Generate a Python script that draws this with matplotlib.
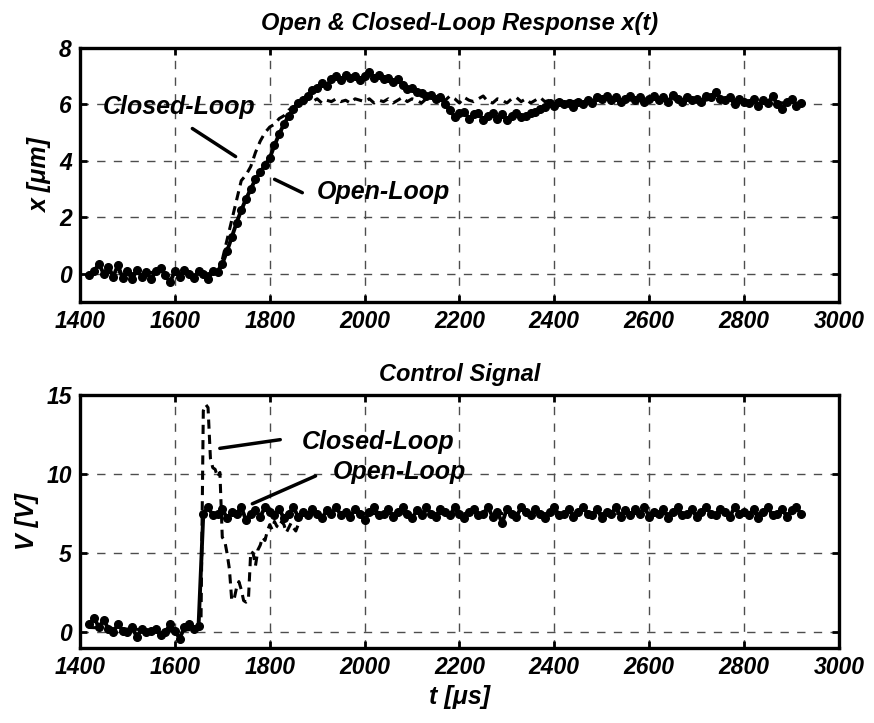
import matplotlib
matplotlib.use("Agg")
import matplotlib.pyplot as plt
import numpy as np

plt.rcParams['font.family'] = ['Liberation Sans', 'DejaVu Sans']
plt.rcParams['font.weight'] = 'bold'
plt.rcParams['font.style'] = 'italic'

# ---- data ----
# open-loop displacement x(t), sampled every 10 us from 1420 us
x_open = [
    -0.05, 0.10, 0.35, 0.00, 0.25, -0.10, 0.30, -0.15, 0.10, -0.20,
    0.15, -0.10, 0.05, -0.20, 0.10, 0.20, -0.05, -0.30, 0.10, -0.10,
    0.15, 0.00, -0.15, 0.10, 0.00, -0.20, 0.10, 0.05,
    0.35, 0.80, 1.30, 1.80, 2.25, 2.65, 3.00, 3.35, 3.60, 3.85,
    4.10, 4.55, 4.95, 5.30, 5.60, 5.85, 6.05, 6.15, 6.30, 6.50,
    6.60, 6.75, 6.65, 6.90, 7.00, 6.85, 7.05, 6.95, 7.00, 6.85,
    7.00, 7.15, 6.95, 7.05, 6.90, 6.95, 6.80, 6.90, 6.70, 6.55,
    6.60, 6.45, 6.40, 6.30, 6.35, 6.20, 6.25, 6.00, 5.80, 5.55,
    5.70, 5.75, 5.50, 5.65, 5.70, 5.45, 5.60, 5.70, 5.50, 5.65,
    5.45, 5.60, 5.70, 5.55, 5.60, 5.70, 5.75, 5.85, 5.90, 6.05,
    5.95, 6.10, 6.00, 6.05, 5.90, 6.10, 6.00, 6.15, 6.05, 6.25,
    6.20, 6.30, 6.15, 6.25, 6.10, 6.20, 6.30, 6.15, 6.25, 6.10,
    6.20, 6.30, 6.15, 6.25, 6.10, 6.35, 6.20, 6.10, 6.25, 6.15,
    6.20, 6.10, 6.30, 6.25, 6.45, 6.20, 6.15, 6.25, 6.00, 6.20,
    6.10, 6.05, 6.20, 5.95, 6.15, 6.05, 6.30, 6.00, 5.85, 6.10,
    6.20, 5.95, 6.05,
]

# closed-loop displacement x(t), same sampling
x_closed = [
    0.00, 0.05, 0.10, 0.00, 0.05, 0.00, 0.10, -0.05, 0.05, 0.00,
    0.05, -0.05, 0.00, 0.05, 0.00, 0.10, 0.00, -0.05, 0.05, 0.00,
    0.05, 0.00, -0.05, 0.05, 0.00, 0.00, 0.05, 0.05,
    0.50, 1.20, 1.90, 2.60, 3.30, 3.50, 3.80, 4.30, 4.70, 5.00,
    5.20, 5.30, 5.50, 5.60, 5.80, 5.90, 6.05, 6.15, 6.20, 6.10,
    6.20, 6.05, 6.15, 6.10, 6.20, 6.10, 6.15, 6.05, 6.20, 6.15,
    6.10, 6.20, 6.05, 6.15, 6.10, 6.20, 6.05, 6.15, 6.25, 6.10,
    6.20, 6.15, 6.05, 6.20, 6.30, 6.10, 6.25, 6.15, 6.30, 6.20,
    6.05, 6.25, 6.15, 6.10, 6.20, 6.30, 6.10, 6.05, 6.20, 6.15,
    6.05, 6.20, 6.25, 6.10, 6.20, 6.05, 6.15, 6.25, 6.10, 6.15,
    6.10, 6.15, 6.10, 6.15, 6.10, 6.15, 6.10, 6.15, 6.15, 6.20,
    6.15, 6.20, 6.15, 6.20, 6.15, 6.20, 6.15, 6.20, 6.15, 6.20,
    6.15, 6.20, 6.15, 6.20, 6.15, 6.20, 6.15, 6.20, 6.15, 6.20,
    6.15, 6.20, 6.15, 6.20, 6.15, 6.20, 6.15, 6.20, 6.15, 6.20,
    6.15, 6.10, 6.15, 6.10, 6.15, 6.10, 6.15, 6.10, 6.05, 6.10,
    6.10, 6.05, 6.05,
]

# open-loop control voltage, every 10 us from 1420 us
v_open = [
    0.5, 0.9, 0.3, 0.8, 0.2, 0.0, 0.5, 0.1, 0.0, 0.3,
    -0.3, 0.2, 0.0, 0.1, 0.2, -0.2, 0.0, 0.5, 0.1, -0.4,
    0.3, 0.5, 0.2, 0.4,
    7.5, 7.9, 7.4, 7.5, 7.8, 7.2, 7.6, 7.5, 7.9, 7.1,
    7.5, 7.7, 7.3, 7.9, 7.6, 7.4, 7.8, 7.2, 7.5, 7.9,
    7.3, 7.6, 7.4, 7.8, 7.5, 7.2, 7.7, 7.5, 7.9, 7.4,
    7.6, 7.3, 7.8, 7.5, 7.1, 7.6, 7.9, 7.4, 7.5, 7.8,
    7.3, 7.6, 7.9, 7.5, 7.2, 7.7, 7.4, 7.9, 7.5, 7.3,
    7.8, 7.6, 7.4, 7.9, 7.5, 7.2, 7.6, 7.8, 7.4, 7.5,
    7.9, 7.3, 7.6, 6.9, 7.8, 7.5, 7.3, 7.9, 7.6, 7.4,
    7.8, 7.5, 7.2, 7.6, 7.9, 7.4, 7.5, 7.8, 7.3, 7.6,
    7.9, 7.5, 7.4, 7.8, 7.2, 7.6, 7.5, 7.9, 7.3, 7.7,
    7.4, 7.8, 7.5, 7.9, 7.3, 7.6, 7.5, 7.8, 7.2, 7.6,
    7.9, 7.4, 7.5, 7.8, 7.3, 7.6, 7.9, 7.5, 7.4, 7.8,
    7.6, 7.3, 7.9, 7.5, 7.6, 7.4, 7.8, 7.2, 7.6, 7.9,
    7.4, 7.5, 7.8, 7.3, 7.7, 7.9, 7.5,
]

# closed-loop control voltage (explicit times)
v_closed_t = [1420, 1500, 1600, 1650, 1655, 1660, 1665, 1670, 1675, 1680,
              1685, 1690, 1695, 1700, 1705, 1710, 1715, 1720, 1725, 1730,
              1735, 1740, 1745, 1750, 1755, 1760, 1765, 1770, 1775, 1780,
              1785, 1790, 1795, 1800, 1805, 1810, 1815, 1820, 1825, 1830,
              1835, 1840, 1845, 1850, 1855, 1860, 1865, 1870, 1900, 2000,
              2200, 2400, 2600, 2800, 2920]
v_closed = [0.3, 0.2, 0.1, 0.2, 0.3, 14.0, 14.4, 14.2, 11.0, 10.4,
            10.3, 9.8, 10.1, 6.0, 5.8, 5.0, 4.0, 2.0, 2.1, 2.8,
            3.2, 2.7, 2.0, 1.9, 2.0, 5.1, 5.0, 4.2, 5.2, 5.5,
            6.0, 5.8, 6.4, 6.8, 6.5, 7.0, 6.7, 6.6, 7.0, 6.8,
            6.3, 6.6, 6.9, 6.6, 6.4, 6.8, 7.4, 7.5, 7.5, 7.5,
            7.5, 7.5, 7.5, 7.5, 7.5]

t0, dt = 1420, 10
t_x = t0 + dt * np.arange(len(x_open))
t_xc = t0 + dt * np.arange(len(x_closed))
t_v = t0 + dt * np.arange(len(v_open))

xticks = [1400, 1600, 1800, 2000, 2200, 2400, 2600, 2800, 3000]

fig = plt.figure(figsize=(8.74, 7.23), dpi=100)
ax1 = fig.add_axes([0.0915, 0.5823, 0.8684, 0.3513])
ax2 = fig.add_axes([0.0915, 0.1037, 0.8684, 0.3500])

tick_fs = 16.5
txt_fs = 17


def style(ax):
    ax.set_xlim(1400, 3000)
    ax.set_xticks(xticks)
    ax.grid(True, color='0.3', linestyle=(0, (6, 6)), linewidth=1.0)
    ax.set_axisbelow(True)
    for s in ax.spines.values():
        s.set_linewidth(2.4)
    ax.tick_params(direction='in', length=5, width=2, top=True, right=True,
                   labelsize=tick_fs, pad=6)
    for lab in ax.get_xticklabels() + ax.get_yticklabels():
        lab.set_fontweight('bold')
        lab.set_fontstyle('italic')


# ---- top: displacement ----
ax1.plot(t_xc, x_closed, color='black', lw=2.2, linestyle=(0, (3, 2)), zorder=3)
ax1.plot(t_x, x_open, color='black', lw=2.8, marker='o', ms=5.5, zorder=2)
ax1.set_ylim(-1, 8)
ax1.set_yticks([0, 2, 4, 6, 8])
style(ax1)
ax1.set_title('Open & Closed-Loop Response x(t)', fontsize=txt_fs,
              fontweight='bold', fontstyle='italic', pad=13)
ax1.set_ylabel('x [μm]', fontsize=18, fontweight='bold', fontstyle='italic', labelpad=5)

ax1.text(1448, 5.9, 'Closed-Loop', fontsize=18, ha='left', va='center')
ax1.annotate('', xy=(1733, 4.1), xytext=(1632, 5.2),
             arrowprops=dict(arrowstyle='-', lw=2.5, color='black'))
ax1.text(1900, 2.9, 'Open-Loop', fontsize=18, ha='left', va='center')
ax1.annotate('', xy=(1805, 3.39), xytext=(1874, 2.83),
             arrowprops=dict(arrowstyle='-', lw=2.5, color='black'))

# ---- bottom: control signal ----
ax2.plot(v_closed_t, v_closed, color='black', lw=2.2, linestyle=(0, (3, 2)), zorder=3)
ax2.plot(t_v, v_open, color='black', lw=2.8, marker='o', ms=5.5, zorder=2)
ax2.set_ylim(-1, 15)
ax2.set_yticks([0, 5, 10, 15])
style(ax2)
ax2.set_title('Control Signal', fontsize=txt_fs, fontweight='bold',
              fontstyle='italic', pad=10)
ax2.set_ylabel('V [V]', fontsize=18, fontweight='bold', fontstyle='italic', labelpad=5)
ax2.set_xlabel('t [μs]', fontsize=18, fontweight='bold', fontstyle='italic', labelpad=4)

ax2.text(1868, 12.0, 'Closed-Loop', fontsize=18, ha='left', va='center')
ax2.annotate('', xy=(1689, 11.6), xytext=(1828, 12.2),
             arrowprops=dict(arrowstyle='-', lw=2.5, color='black'))
ax2.text(1933, 10.1, 'Open-Loop', fontsize=18, ha='left', va='center')
ax2.annotate('', xy=(1758, 8.05), xytext=(1902, 9.95),
             arrowprops=dict(arrowstyle='-', lw=2.5, color='black'))

fig.savefig('out.png', dpi=100)
